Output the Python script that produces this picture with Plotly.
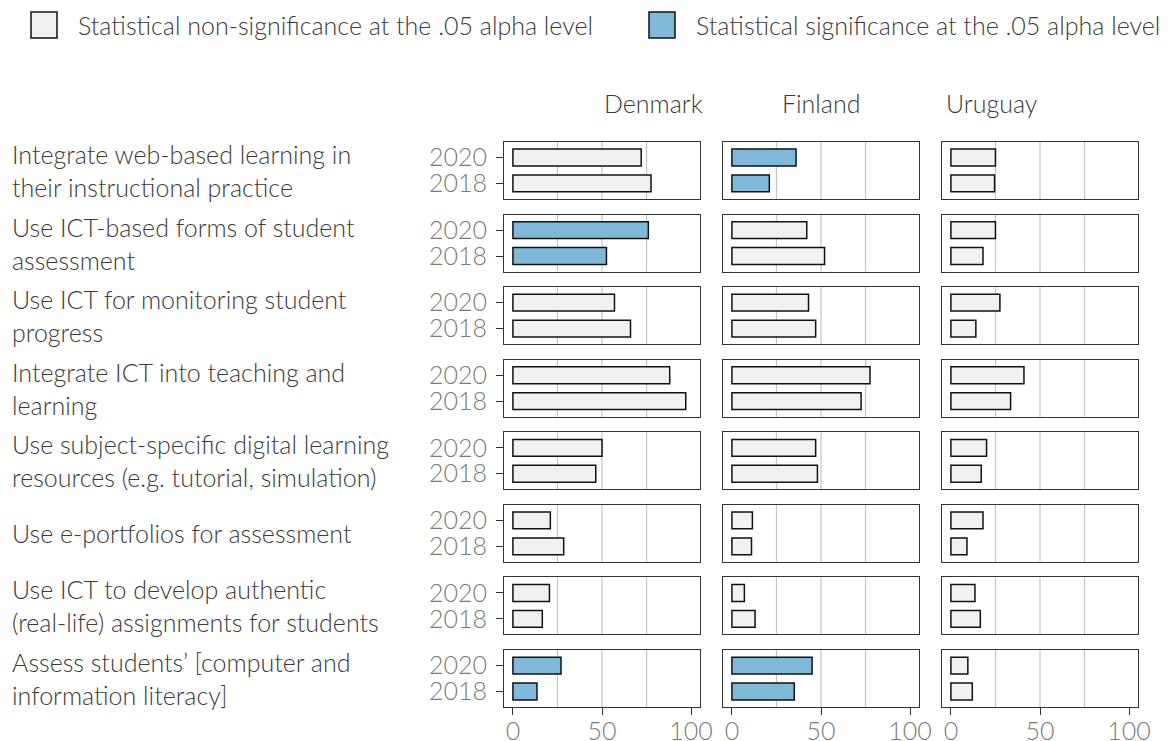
import plotly.graph_objects as go
from plotly.subplots import make_subplots

W, H = 1173, 741
FONT = "Lato"

categories = [
    "Integrate web-based learning in<br>their instructional practice",
    "Use ICT-based forms of student<br>assessment",
    "Use ICT for monitoring student<br>progress",
    "Integrate ICT into teaching and<br>learning",
    "Use subject-specific digital learning<br>resources (e.g. tutorial, simulation)",
    "Use e-portfolios for assessment",
    "Use ICT to develop authentic<br>(real-life) assignments for students",
    "Assess students’ [computer and<br>information literacy]",
]
countries = ["Denmark", "Finland", "Uruguay"]
years = ["2020", "2018"]

dk_2020 = [72, 76, 57, 88, 50, 21, 20.5, 27]
dk_2018 = [77.5, 52.5, 66, 97, 46.5, 28.5, 16.5, 13.5]
fi_2020 = [36, 42, 43, 77.5, 47, 11.5, 7, 45]
fi_2018 = [21, 52, 47, 72.5, 48, 11, 13, 35]
uy_2020 = [25, 25, 27.5, 41, 20, 18, 13.5, 9.5]
uy_2018 = [24.5, 18, 14, 33.5, 17, 9, 16.5, 12]

dk_sig = [False, True, False, False, False, False, False, True]
fi_sig = [True, False, False, False, False, False, False, True]
uy_sig = [False] * 8

values = {
    "Denmark": (dk_2020, dk_2018, dk_sig),
    "Finland": (fi_2020, fi_2018, fi_sig),
    "Uruguay": (uy_2020, uy_2018, uy_sig),
}

GREY = "#f2f1f1"
BLUE = "#80b8d9"
legend_names = [
    "Statistical non-significance at the .05 alpha level",
    "Statistical significance at the .05 alpha level",
]

# plot area in pixels
L, R, T, B = 504, 1138, 142, 707
pw, ph = R - L, B - T
n_rows = len(categories)
hgap = 23 / pw
vgap = 15.6 / ph

fig = make_subplots(
    rows=n_rows, cols=3, horizontal_spacing=hgap, vertical_spacing=vgap
)

for c, country in enumerate(countries, start=1):
    v2020, v2018, sig = values[country]
    for r in range(n_rows):
        color = BLUE if sig[r] else GREY
        fig.add_trace(
            go.Bar(
                x=[v2020[r], v2018[r]],
                y=years,
                orientation="h",
                width=0.65,
                marker=dict(color=color, line=dict(color="#111111", width=1.5)),
                showlegend=False,
                hoverinfo="x",
            ),
            row=r + 1,
            col=c,
        )
        for g in [25, 50, 75]:
            fig.add_vline(
                x=g, line=dict(color="#c4c4c4", width=1.2), layer="below",
                row=r + 1, col=c,
            )

fig.update_xaxes(
    range=[-5, 105],
    tickmode="array",
    tickvals=[0, 50, 100],
    showgrid=False,
    zeroline=False,
    showline=True,
    mirror=True,
    linecolor="#333333",
    linewidth=1.2,
    showticklabels=False,
    ticks="",
    automargin=False,
)
fig.update_xaxes(
    row=n_rows,
    showticklabels=True,
    ticks="outside",
    ticklen=7,
    tickwidth=1.2,
    tickcolor="#333333",
    ticklabelstandoff=-5,
    tickfont=dict(family=FONT, size=25, color="#7a7a7a", weight=300),
)
fig.update_yaxes(
    type="category",
    categoryorder="array",
    categoryarray=["2018", "2020"],
    tickmode="array",
    tickvals=years,
    range=[-0.6, 1.6],
    showgrid=False,
    zeroline=False,
    showline=True,
    mirror=True,
    linecolor="#333333",
    linewidth=1.2,
    showticklabels=False,
    ticks="",
    automargin=False,
)
fig.update_yaxes(
    col=1,
    showticklabels=True,
    ticks="outside",
    ticklen=7,
    tickwidth=1.2,
    tickcolor="#333333",
    ticklabelstandoff=4,
    tickfont=dict(family=FONT, size=25, color="#7a7a7a", weight=300),
)

# country headers
for c, country in enumerate(countries):
    cx = (98 + c * (196 + 23)) / pw
    fig.add_annotation(
        x=cx, y=1, xref="paper", yref="paper", yanchor="middle",
        yshift=T - 103, text=country, showarrow=False,
        font=dict(family=FONT, size=25, color="#3a3a3a", weight=300),
    )

# row labels
for r, cat in enumerate(categories):
    yref = "y domain" if r == 0 else f"y{r * 3 + 1} domain"
    fig.add_annotation(
        x=(10 - L) / pw, y=0.5, xref="paper", yref=yref,
        xanchor="left", yanchor="middle", align="left",
        text=cat, showarrow=False,
        font=dict(family=FONT, size=25, color="#3a3a3a", weight=300),
    )

# legend drawn as key boxes + labels
for name, color, x0 in zip(legend_names, [GREY, BLUE], [31, 649]):
    fig.add_shape(
        type="rect", xref="paper", yref="paper",
        x0=(x0 - L) / pw, x1=(x0 + 26 - L) / pw,
        y0=1 + (T - 38) / ph, y1=1 + (T - 12) / ph,
        fillcolor=color, line=dict(color="#111111", width=1.5),
    )
    fig.add_annotation(
        x=(x0 + 45 - L) / pw, y=1 + (T - 25) / ph, xref="paper", yref="paper",
        xanchor="left", yanchor="middle", text=name, showarrow=False,
        font=dict(family=FONT, size=25, color="#3a3a3a", weight=300),
    )

fig.update_layout(
    width=W,
    height=H,
    margin=dict(l=L, r=W - R, t=T, b=H - B, autoexpand=False),
    plot_bgcolor="white",
    paper_bgcolor="white",
    showlegend=False,
    font=dict(family=FONT, weight=300),
)

fig.write_html(
    "out.html",
    config={"displayModeBar": False},
    post_script="document.body.style.margin='0';",
)
